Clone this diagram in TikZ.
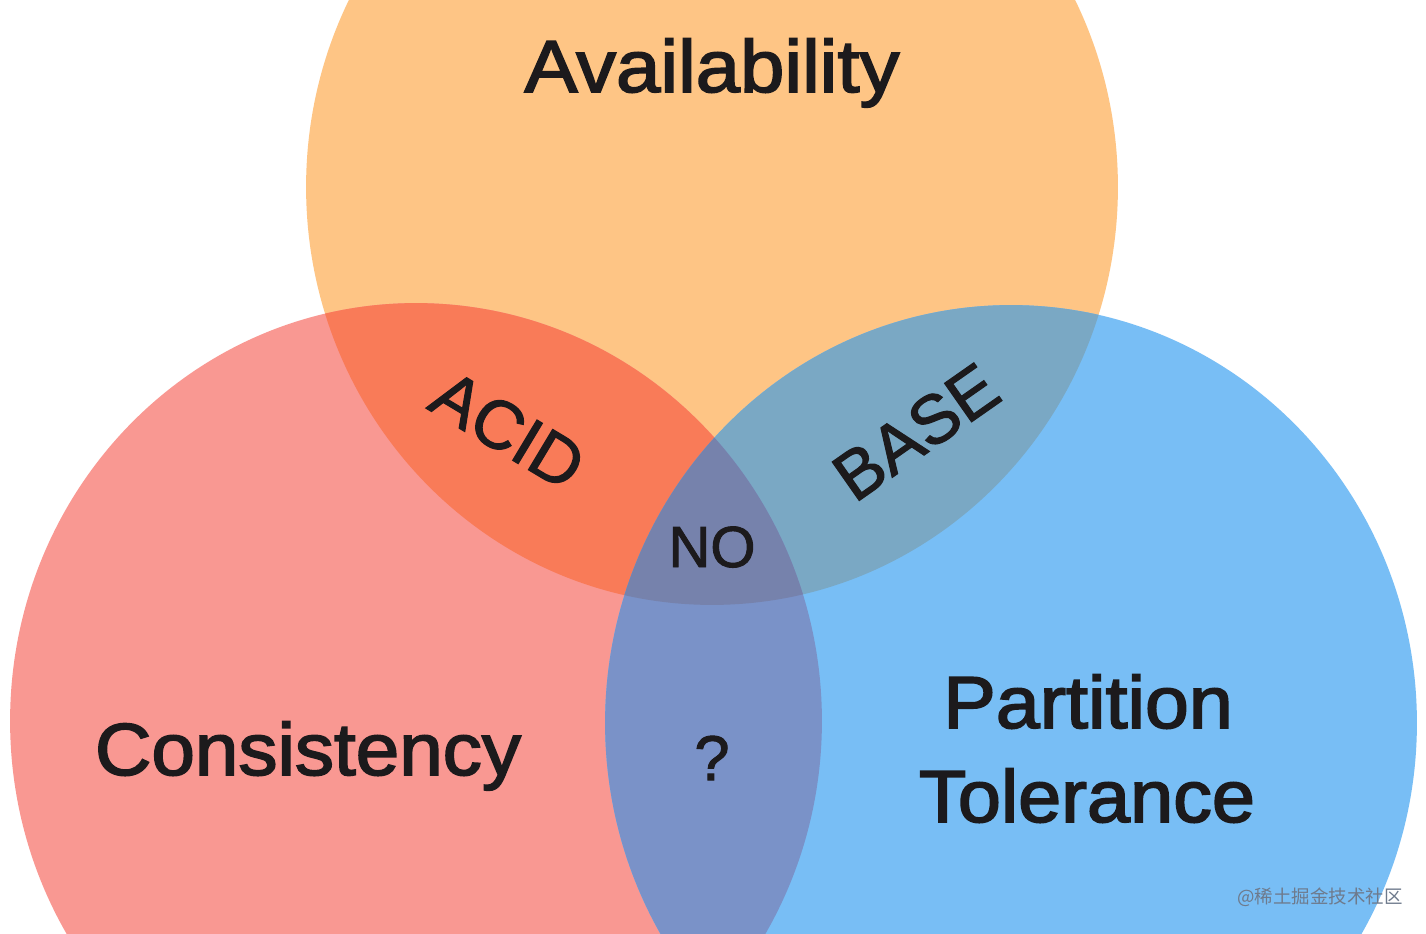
\documentclass[tikz,border=0pt]{standalone}
\usepackage{fontspec}
\setmainfont{Liberation Sans}
\newfontfamily\labfont{Liberation Sans}[FakeBold=2.2]
\newfontfamily\smfont{Liberation Sans}[FakeBold=1.6]
\newfontfamily\cjkfont{Noto Sans CJK SC}
\definecolor{Aonly}{RGB}{254,197,133}
\definecolor{Conly}{RGB}{249,152,146}
\definecolor{Ponly}{RGB}{120,190,245}
\definecolor{ACcol}{RGB}{249,123,88}
\definecolor{APcol}{RGB}{122,168,196}
\definecolor{CPcol}{RGB}{122,146,200}
\definecolor{ACPcol}{RGB}{118,130,172}
\definecolor{inkcol}{RGB}{28,26,28}
\definecolor{markcol}{RGB}{110,122,140}
\begin{document}
\begin{tikzpicture}[x=0.02cm,y=-0.02cm,
  biglabel/.style={text=inkcol,inner sep=0pt,font=\labfont\fontsize{42}{48}\selectfont},
  smalllabel/.style={text=inkcol,inner sep=0pt,font=\smfont\fontsize{36}{42}\selectfont}]
\def\Aell{(712,187) ellipse [x radius=8.12cm, y radius=8.36cm]}
\def\Cell{(416,721) ellipse [x radius=8.12cm, y radius=8.36cm]}
\def\Pell{(1011,723) ellipse [x radius=8.12cm, y radius=8.36cm]}
\useasboundingbox (0,0) rectangle (1426,933);
\begin{scope}
\clip (0,0) rectangle (1426,933);
\fill[white] (0,0) rectangle (1426,933);
\fill[Aonly] \Aell;
\fill[Conly] \Cell;
\fill[Ponly] \Pell;
\begin{scope}\clip \Aell; \fill[ACcol] \Cell; \end{scope}
\begin{scope}\clip \Aell; \fill[APcol] \Pell; \end{scope}
\begin{scope}\clip \Cell; \fill[CPcol] \Pell; \end{scope}
\begin{scope}\clip \Aell; \clip \Cell; \fill[ACPcol] \Pell; \end{scope}
\end{scope}
\node[biglabel,anchor=base,xscale=1.08] (avail) at (712,92) {Availability};
\node[biglabel,anchor=base,xscale=1.06] (cons) at (308,775) {Consistency};
\node[biglabel,anchor=base,xscale=1.07] (part) at (1088,728) {Partition};
\node[biglabel,anchor=base,xscale=1.05] (tol) at (1087,822) {Tolerance};
\node[smalllabel,anchor=base,font=\smfont\fontsize{33}{40}\selectfont] (no) at (712,567) {NO};
\node[smalllabel,anchor=base] (q) at (712,780) {?};
\node[smalllabel,rotate=-31,font=\smfont\fontsize{39}{44}\selectfont] (acid) at (508,430) {ACID};
\node[smalllabel,rotate=35,font=\smfont\fontsize{39}{44}\selectfont] (base) at (916,432) {BASE};
\node[text=markcol,inner sep=0pt,font=\cjkfont\fontsize{10.5}{12}\selectfont] (mark) at (1320,897) {@稀土掘金技术社区};
\end{tikzpicture}
\end{document}
